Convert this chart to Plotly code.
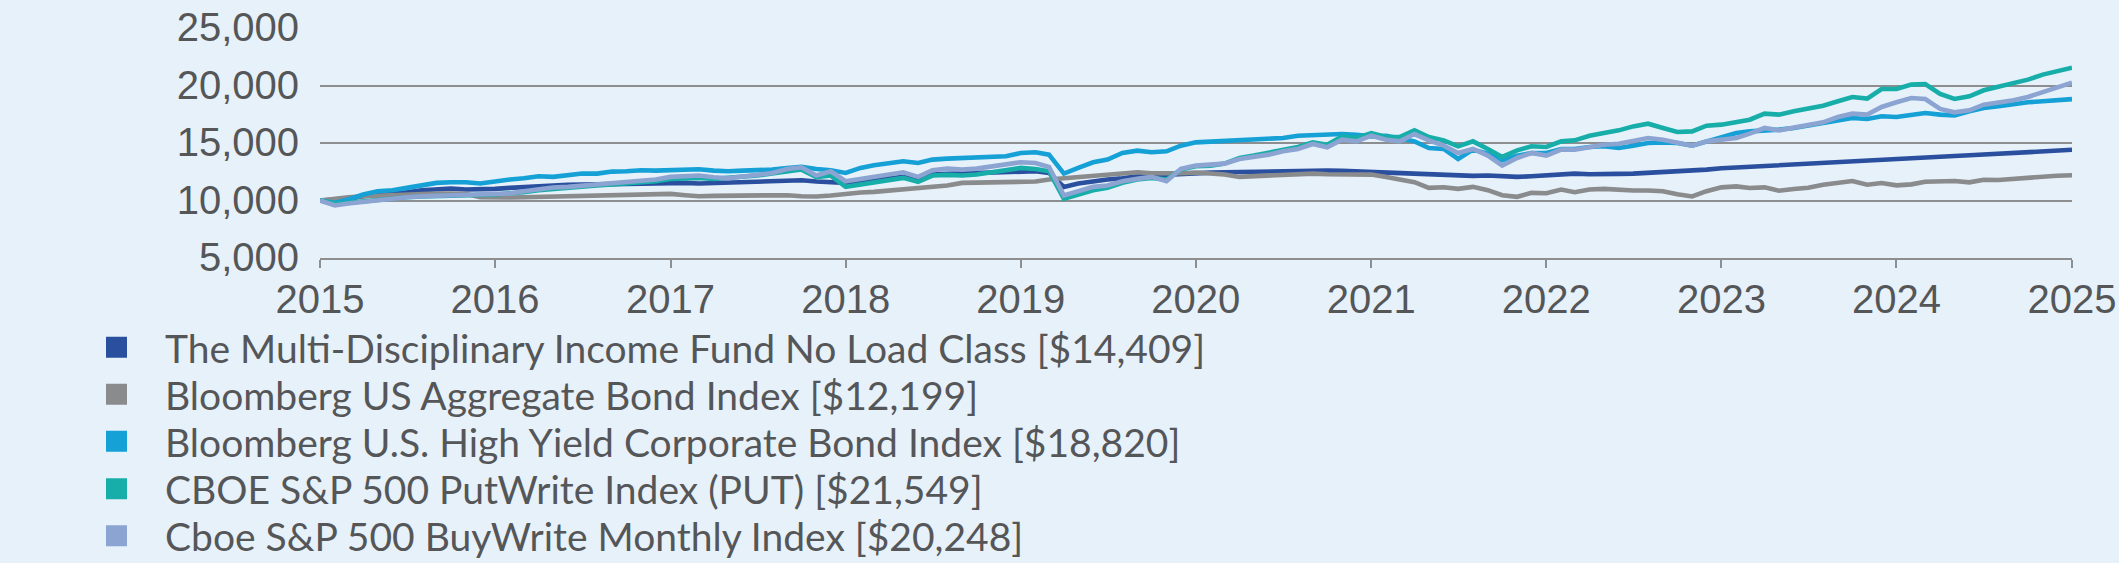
import pandas as pd
import plotly.graph_objects as go

dates = pd.date_range("2015-01-01", periods=121, freq="MS")

fund = [10000, 10029, 10145, 10376, 10462, 10578, 10723, 10896, 11012, 11040, 10954, 10954,
        11012, 11098, 11185, 11243, 11301, 11358, 11387, 11445, 11474, 11503, 11532, 11561,
        11590, 11532, 11474, 11503, 11532, 11561, 11590, 11676, 11734, 11763, 11647, 11590,
        11532, 11676, 11821, 11936, 12052, 11907, 12254, 12312, 12341, 12370, 12399, 12428,
        12457, 12543, 12399, 11185, 11474, 11676, 11821, 11936, 12110, 12168, 12254, 12341,
        12399, 12428, 12457, 12486, 12514, 12543, 12543, 12572, 12601, 12601, 12572, 12514,
        12457, 12399, 12341, 12283, 12254, 12168, 12110, 12139, 12168, 12110, 12052, 12110,
        12168, 12254, 12341, 12283, 12254, 12312, 12341, 12399, 12457, 12486, 12543, 12688,
        12800, 12870, 12950, 13030, 13100, 13180, 13250, 13320, 13400, 13480, 13560, 13620,
        13680, 13730, 13780, 13830, 13870, 13930, 14000, 14060, 14120, 14190, 14260, 14330,
        14409]

agg = [10000, 10200, 10290, 10376, 10434, 10520, 10550, 10578, 10607, 10607, 10578, 10290,
       10231, 10260, 10289, 10318, 10347, 10376, 10405, 10462, 10491, 10550, 10520, 10550,
       10578, 10462, 10376, 10405, 10434, 10405, 10405, 10434, 10462, 10376, 10347, 10434,
       10607, 10694, 10752, 10867, 10954, 11040, 11156, 11301, 11532, 11561, 11590, 11590,
       11590, 11647, 11821, 11936, 12052, 12139, 12225, 12399, 12457, 12370, 12341, 12370,
       12428, 12370, 12254, 12052, 12110, 12139, 12196, 12283, 12341, 12283, 12254, 12254,
       12254, 12052, 11879, 11590, 11098, 11156, 11012, 11185, 10896, 10462, 10318, 10665,
       10636, 10954, 10723, 10954, 11012, 10896, 10867, 10867, 10809, 10549, 10347, 10809,
       11143, 11230, 11085, 11143, 10853, 10998, 11114, 11375, 11520, 11694, 11375, 11520,
       11317, 11404, 11636, 11665, 11694, 11578, 11810, 11781, 11897, 12013, 12100, 12158,
       12199]

high_yield = [10000, 9798, 10087, 10520, 10809, 10896, 11098, 11301, 11532, 11590, 11590, 11474,
              11676, 11821, 11936, 12110, 12052, 12168, 12341, 12341, 12514, 12543, 12630, 12601,
              12630, 12659, 12716, 12601, 12543, 12601, 12630, 12688, 12832, 12919, 12746, 12630,
              12399, 12832, 13063, 13208, 13410, 13266, 13555, 13641, 13670, 13699, 13786, 13844,
              14133, 14191, 13988, 12341, 12832, 13324, 13555, 14133, 14335, 14191, 14277, 14769,
              15058, 15116, 15173, 15202, 15231, 15347, 15433, 15636, 15693, 15751, 15780, 15722,
              15578, 15636, 15433, 15144, 14566, 14480, 13613, 14422, 14075, 13497, 13902, 14133,
              14133, 14480, 14480, 14653, 14711, 14566, 14769, 15000, 15058, 15000, 14769, 15100,
              15500, 15870, 16015, 16073, 16160, 16305, 16508, 16740, 16972, 17175, 17088, 17320,
              17262, 17465, 17610, 17465, 17407, 17755, 18045, 18190, 18393, 18538, 18625, 18683,
              18820]

putwrite = [10000, 9740, 9798, 9942, 10087, 10200, 10289, 10347, 10405, 10462, 10491, 10491,
            10520, 10607, 10723, 10896, 11012, 11098, 11185, 11301, 11387, 11474, 11590, 11676,
            11879, 11907, 11965, 11879, 11965, 12052, 12168, 12341, 12543, 12688, 12023, 12168,
            11185, 11387, 11590, 11763, 11965, 11618, 12168, 12225, 12168, 12254, 12457, 12630,
            12832, 12746, 12543, 10145, 10520, 10896, 11098, 11532, 11821, 11965, 11821, 12688,
            12977, 13035, 13208, 13699, 13902, 14133, 14422, 14653, 15058, 14855, 15578, 15433,
            15867, 15520, 15520, 16098, 15520, 15231, 14711, 15144, 14480, 13786, 14364, 14711,
            14653, 15144, 15231, 15636, 15867, 16098, 16445, 16676, 16300, 15953, 16011, 16503,
            16595, 16798, 17030, 17552, 17465, 17755, 17987, 18248, 18625, 19002, 18857, 19698,
            19698, 20075, 20133, 19263, 18828, 19060, 19582, 19872, 20162, 20510, 20945, 21235,
            21549]

buywrite = [10000, 9566, 9740, 9884, 10087, 10200, 10289, 10376, 10405, 10434, 10462, 10491,
            10578, 10607, 10809, 11012, 11127, 11185, 11301, 11387, 11532, 11590, 11676, 11821,
            12052, 12110, 12168, 12023, 11936, 12081, 12254, 12399, 12746, 12890, 12168, 12543,
            11676, 11879, 12052, 12254, 12457, 12052, 12630, 12774, 12688, 12774, 12977, 13121,
            13324, 13266, 12919, 10434, 10809, 11185, 11301, 11676, 11879, 12052, 11676, 12746,
            13035, 13092, 13208, 13613, 13786, 13988, 14277, 14480, 14913, 14624, 15289, 15144,
            15636, 15289, 15144, 15780, 15231, 14769, 14133, 14480, 13902, 13035, 13699, 14133,
            13902, 14422, 14422, 14653, 14855, 14942, 15144, 15433, 15289, 15000, 14769, 15144,
            15290, 15435, 15812, 16305, 16102, 16305, 16595, 16798, 17262, 17552, 17465, 18132,
            18538, 18915, 18828, 17958, 17668, 17842, 18335, 18480, 18712, 19002, 19437, 19785,
            20248]

series_names = [
    "The Multi-Disciplinary Income Fund No Load Class [$14,409]",
    "Bloomberg US Aggregate Bond Index [$12,199]",
    "Bloomberg U.S. High Yield Corporate Bond Index [$18,820]",
    "CBOE S&P 500 PutWrite Index (PUT) [$21,549]",
    "Cboe S&P 500 BuyWrite Monthly Index [$20,248]",
]
series_values = [fund, agg, high_yield, putwrite, buywrite]
series_colors = ["#2a4f9e", "#8a8b8d", "#15a0d6", "#17aeaa", "#8ca4d2"]

year_ticks = [str(y) for y in range(2015, 2026)]
y_ticks = [5000, 10000, 15000, 20000, 25000]

BG = "#e7f1fa"
GRID = "#8d8e90"
TXT = "#555658"
W, H = 2119, 563

fig = go.Figure()
for vals, col in zip(series_values, series_colors):
    fig.add_trace(go.Scatter(x=dates, y=vals, mode="lines",
                             line=dict(color=col, width=4.6), showlegend=False,
                             hoverinfo="skip"))

legend_keys = ["legend", "legend2", "legend3", "legend4", "legend5"]
for name, col, key in zip(series_names, series_colors, legend_keys):
    fig.add_trace(go.Scatter(x=[None], y=[None], mode="markers", name=name,
                             marker=dict(symbol="square", size=16, color=col,
                                         line=dict(color=col, width=5)),
                             legend=key, showlegend=True))

legend_centers = [347.5, 394.5, 441.5, 489, 536]
for key, cy in zip(legend_keys, legend_centers):
    fig.layout[key] = dict(
        xref="container", yref="container", x=68 / W, y=1 - cy / H,
        xanchor="left", yanchor="middle", bgcolor="rgba(0,0,0,0)",
        font=dict(family="Lato, sans-serif", size=39, color=TXT),
        itemwidth=87, itemclick=False, itemdoubleclick=False)

fig.update_layout(
    width=W, height=H,
    margin=dict(l=320, r=47, t=28, b=305, autoexpand=False),
    paper_bgcolor=BG, plot_bgcolor=BG,
    font=dict(family="Liberation Sans, Arial, sans-serif", size=40, color=TXT),
)
fig.update_xaxes(
    type="date", range=["2015-01-01", "2025-01-01"],
    tickvals=[f"{y}-01-01" for y in year_ticks], ticktext=year_ticks, tickangle=0,
    ticks="outside", ticklen=8, tickwidth=1.5, tickcolor=GRID,
    showline=True, linecolor=GRID, linewidth=1.5, showgrid=False, zeroline=False,
    tickfont=dict(size=40, color=TXT), automargin=False, ticklabelstandoff=-3,
)
fig.update_yaxes(
    range=[5000, 25000], tickvals=y_ticks, tickformat=",d",
    showgrid=True, gridcolor=GRID, gridwidth=1.5, zeroline=False, showline=False,
    ticks="", ticklabelstandoff=20, ticklabelshift=-1, automargin=False,
    tickfont=dict(size=40, color=TXT),
)

fig.write_html("out.html", config={"displayModeBar": False},
               post_script="document.body.style.margin='0';document.body.style.overflow='hidden';")
